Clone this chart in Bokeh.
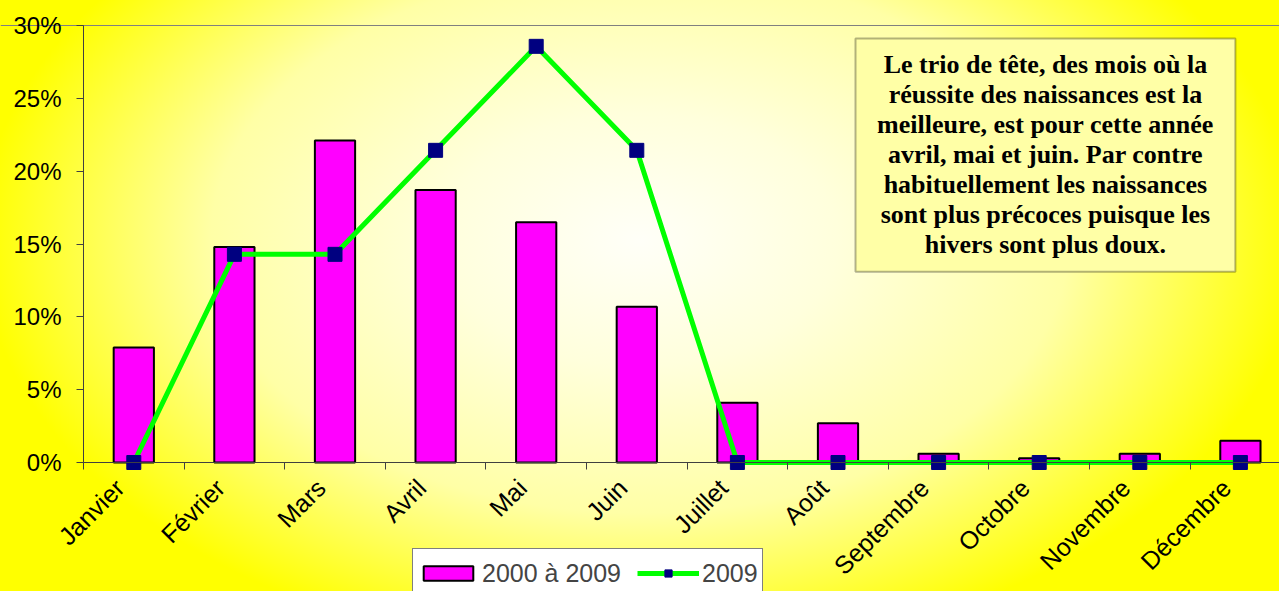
import math
from bokeh.plotting import figure
from bokeh.models import FixedTicker, NumeralTickFormatter, BoxAnnotation, Legend, LegendItem, Range1d
from bokeh.core.properties import value
from bokeh.embed import file_html
from bokeh.resources import INLINE

months = ["Janvier", "Février", "Mars", "Avril", "Mai", "Juin", "Juillet",
          "Août", "Septembre", "Octobre", "Novembre", "Décembre"]
share_2000_2009 = [0.079, 0.148, 0.221, 0.187, 0.165, 0.107, 0.041, 0.027,
                   0.006, 0.003, 0.006, 0.015]
share_2009 = [0.0, 0.1429, 0.1429, 0.2143, 0.2857, 0.2143, 0.0, 0.0, 0.0, 0.0, 0.0, 0.0]
y_ticks = [0.0, 0.05, 0.10, 0.15, 0.20, 0.25, 0.30]
series_names = ["2000 à 2009", "2009"]
note_lines = [
    "Le trio de tête, des mois où la",
    "réussite des naissances est la",
    "meilleure, est pour cette année",
    "avril, mai et juin. Par contre",
    "habituellement les naissances",
    "sont plus précoces puisque les",
    "hivers sont plus doux.",
]

xs = [i + 0.5 for i in range(len(months))]

W, H = 1279, 591
TOP, ZERO = 25, 462           # pixel rows of 30% and 0%
px_per_unit_y = (ZERO - TOP) / 0.30
y_start = -(H - ZERO) / px_per_unit_y
y_end = 0.30 + TOP / px_per_unit_y
LEFT = 83                     # pixel column of the value axis
cat_px = 100.6
x_start = -LEFT / cat_px
x_end = (W - LEFT) / cat_px
label_shift = 14 / cat_px     # rotated labels sit a little left of the category centre

p = figure(width=W, height=H, output_backend="svg", toolbar_location=None,
           x_range=Range1d(x_start, x_end), y_range=Range1d(y_start, y_end),
           min_border_left=0, min_border_right=0, min_border_top=0, min_border_bottom=0)
p.styles = {"background": "radial-gradient(ellipse 660px 420px at 640px 240px, #FFFFF8 0%, #FFFFDC 30%, #FFFFA6 65%, #FFFF00 100%)"}
p.border_fill_color = None
p.background_fill_color = None
p.outline_line_color = None

# y axis, pinned at the left edge of the category range
p.yaxis.fixed_location = 0
p.yaxis.ticker = FixedTicker(ticks=y_ticks)
p.yaxis.bounds = (0, 0.30)
p.yaxis.formatter = NumeralTickFormatter(format="0%")
p.yaxis.major_label_text_font = "Liberation Sans"
p.yaxis.major_label_text_font_size = "24px"
p.yaxis.major_label_text_color = "black"
p.yaxis.axis_line_color = "#404040"
p.yaxis.major_tick_line_color = "#404040"
p.yaxis.major_tick_in = 0
p.yaxis.major_tick_out = 7
p.yaxis.minor_tick_line_color = None
p.yaxis.major_label_standoff = 15

# x axis, pinned at 0%
label_pos = [x - label_shift for x in xs]
p.xaxis.fixed_location = 0
p.xaxis.bounds = (0, x_end)
p.xaxis.ticker = FixedTicker(ticks=label_pos, minor_ticks=list(range(0, 13)))
p.xaxis.major_label_overrides = {x: m for x, m in zip(label_pos, months)}
p.xaxis.major_label_orientation = math.pi / 4
p.xaxis.major_label_text_font = "Liberation Sans"
p.xaxis.major_label_text_font_size = "25px"
p.xaxis.major_label_text_color = "black"
p.xaxis.axis_line_color = "#404040"
p.xaxis.major_tick_line_color = None
p.xaxis.minor_tick_line_color = "#404040"
p.xaxis.minor_tick_in = 0
p.xaxis.minor_tick_out = 7
p.xaxis.major_label_standoff = 14

p.xgrid.grid_line_color = None
p.ygrid.ticker = FixedTicker(ticks=[y_ticks[-1]])
p.ygrid.bounds = (0, x_end)
p.ygrid.grid_line_color = "#808080"
p.ygrid.grid_line_width = 1

bars = p.vbar(x=xs, top=share_2000_2009, width=0.4, bottom=0,
              fill_color="#FF00FF", line_color="black", line_width=2)
ln = p.line(x=xs, y=share_2009, line_color="#00FF00", line_width=5)
mk = p.scatter(x=xs, y=share_2009, marker="square", size=14,
               fill_color="#000080", line_color="#000080")

# note box
box = BoxAnnotation(left=7.674, right=11.45, bottom=0.131, top=0.291, level="underlay",
                    fill_color="#FFFFA6", fill_alpha=1, line_color="black", line_width=2)
p.add_layout(box)
note_y = [(ZERO - (64 + 30 * i)) / px_per_unit_y for i in range(len(note_lines))]
p.text(x=[9.562] * len(note_lines), y=note_y, text=note_lines,
       text_font=value("Liberation Serif"), text_font_style="bold",
       text_font_size="26px", text_align="center", text_baseline="middle",
       text_color="black")

legend = Legend(items=[LegendItem(label=series_names[0], renderers=[bars]),
                       LegendItem(label=series_names[1], renderers=[ln, mk])],
                orientation="horizontal", location=(412, -7),
                label_text_font="Liberation Sans", label_text_font_size="25px",
                glyph_width=62, glyph_height=18, label_height=40, label_standoff=3,
                spacing=16, padding=4, margin=0,
                border_line_color="black", border_line_width=1,
                background_fill_color="white", background_fill_alpha=1)
p.add_layout(legend)

open("out.html", "w").write(file_html(p, INLINE))
